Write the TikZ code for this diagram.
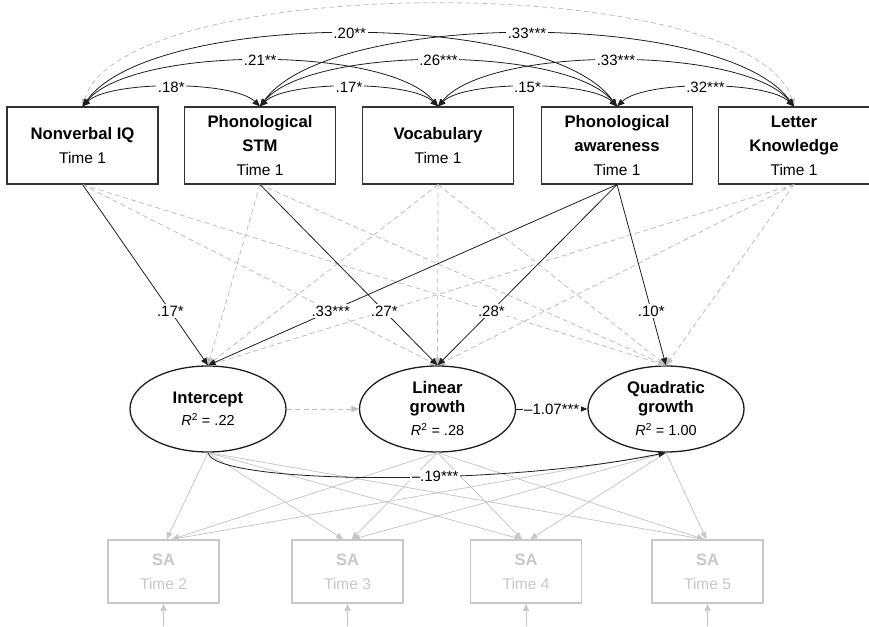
\documentclass[tikz,border=0pt]{standalone}
\usepackage{fontspec}
\setmainfont{Liberation Sans}
\usetikzlibrary{arrows.meta,shapes.geometric,calc}
\definecolor{ink}{HTML}{1E1E1E}
\definecolor{boxline}{HTML}{333333}
\definecolor{dashgray}{HTML}{BDBDBD}
\definecolor{palegray}{HTML}{C8C8C8}
\newcommand\regline[1]{{\fontsize{15.5}{24}\selectfont #1}}
\newcommand\rsq[1]{{\fontsize{14.5}{19}\selectfont\textit{R}\textsuperscript{2} = #1}}
\begin{document}
\begin{tikzpicture}[x=1pt,y=1pt,
  >={Triangle[length=7.5pt,width=6pt]},
  obs/.style={draw=boxline,line width=1.1pt,minimum width=151pt,minimum height=77pt,inner sep=0pt,align=center,font=\fontsize{16.7}{24}\selectfont},
  lat/.style={ellipse,draw=ink,line width=1.3pt,minimum width=156pt,minimum height=86pt,inner sep=0pt,align=center,font=\fontsize{16.7}{19}\selectfont},
  sab/.style={draw=palegray,line width=1.1pt,minimum width=111pt,minimum height=63pt,inner sep=0pt,align=center,text=palegray,font=\fontsize{16.5}{24}\selectfont},
  sig/.style={draw=ink,line width=0.8pt,->},
  nsig/.style={draw=dashgray,line width=0.8pt,dash pattern=on 5pt off 3.5pt,->},
  corr/.style={draw=ink,line width=0.8pt,<->},
  ncorr/.style={draw=dashgray,line width=0.8pt,dash pattern=on 5pt off 3.5pt,<->},
  load/.style={draw=palegray,line width=0.8pt,->},
  lab/.style={fill=white,inner sep=1.5pt,font=\fontsize{15}{15}\selectfont}]
\useasboundingbox (0,0) rectangle (869,626);

% observed predictors
\node[obs] (niq)  at (82.5,480.5) {\textbf{Nonverbal IQ}\\\regline{Time 1}};
\node[obs] (pstm) at (260,480.5)  {\textbf{Phonological}\\\textbf{STM}\\\regline{Time 1}};
\node[obs] (voc)  at (438,480.5)  {\textbf{Vocabulary}\\\regline{Time 1}};
\node[obs] (pa)   at (617,480.5)  {\textbf{Phonological}\\\textbf{awareness}\\\regline{Time 1}};
\node[obs] (lk)   at (794,480.5)  {\textbf{Letter}\\\textbf{Knowledge}\\\regline{Time 1}};

% latent growth factors
\node[lat] (int)  at (208,217)   {\textbf{Intercept}\\[3pt]\rsq{.22}};
\node[lat] (lin)  at (437.5,217) {\textbf{Linear}\\\textbf{growth}\\[4pt]\rsq{.28}};
\node[lat] (quad) at (666,217)   {\textbf{Quadratic}\\\textbf{growth}\\[4pt]\rsq{1.00}};

% SA indicators
\node[sab] (sa2) at (163.5,54.5) {\textbf{SA}\\\regline{Time 2}};
\node[sab] (sa3) at (347.5,54.5) {\textbf{SA}\\\regline{Time 3}};
\node[sab] (sa4) at (526,54.5)   {\textbf{SA}\\\regline{Time 4}};
\node[sab] (sa5) at (707.5,54.5) {\textbf{SA}\\\regline{Time 5}};

\coordinate (r2) at (163.5,0);
\coordinate (r3) at (347.5,0);
\coordinate (r4) at (526,0);
\coordinate (r5) at (707.5,0);

% correlations
\draw[ncorr] (niq.north) .. controls +(40,136) and +(-40,136) .. (lk.north);
\draw[corr] (niq.north) .. controls +(70,97) and +(-70,97) .. (pa.north) node[lab,pos=0.5]{.20**};
\draw[corr] (pstm.north) .. controls +(70,97) and +(-70,97) .. (lk.north) node[lab,pos=0.5]{.33***};
\draw[corr] (niq.north) .. controls +(50,61) and +(-50,61) .. (voc.north) node[lab,pos=0.5]{.21**};
\draw[corr] (pstm.north) .. controls +(50,61) and +(-50,61) .. (pa.north) node[lab,pos=0.5]{.26***};
\draw[corr] (voc.north) .. controls +(50,61) and +(-50,61) .. (lk.north) node[lab,pos=0.5]{.33***};
\draw[corr] (niq.north) .. controls +(27,26) and +(-27,26) .. (pstm.north) node[lab,pos=0.5]{.18*};
\draw[corr] (pstm.north) .. controls +(27,26) and +(-27,26) .. (voc.north) node[lab,pos=0.5]{.17*};
\draw[corr] (voc.north) .. controls +(27,26) and +(-27,26) .. (pa.north) node[lab,pos=0.5]{.15*};
\draw[corr] (pa.north) .. controls +(27,26) and +(-27,26) .. (lk.north) node[lab,pos=0.5]{.32***};

% non-significant regressions
\draw[nsig] (niq.south) -- (lin.north);
\draw[nsig] (niq.south) -- (quad.north);
\draw[nsig] (pstm.south) -- (int.north);
\draw[nsig] (pstm.south) -- (quad.north);
\draw[nsig] (voc.south) -- (int.north);
\draw[nsig] (voc.south) -- (lin.north);
\draw[nsig] (voc.south) -- (quad.north);
\draw[nsig] (lk.south) -- (int.north);
\draw[nsig] (lk.south) -- (lin.north);
\draw[nsig] (lk.south) -- (quad.north);

% significant regressions
\draw[sig] (niq.south) -- (int.north) node[lab,pos=0.7]{.17*};
\draw[sig] (pstm.south) -- (lin.north) node[lab,pos=0.7]{.27*};
\draw[sig] (pa.south) -- (int.north) node[lab,pos=0.7]{.33***};
\draw[sig] (pa.south) -- (lin.north) node[lab,pos=0.7]{.28*};
\draw[sig] (pa.south) -- (quad.north) node[lab,pos=0.7]{.10*};

% growth factor relations
\draw[nsig] (int) -- (lin);

% loadings
\draw[load] (int.south) -- ($(sa2.north)+(3,0)$);
\draw[load] (lin.south) -- ($(sa2.north)+(8,0)$);
\draw[load] (quad.south) -- ($(sa2.north)+(8,0)$);
\draw[load] (int.south) -- ($(sa3.north)+(-4,0)$);
\draw[load] (lin.south) -- ($(sa3.north)+(4,0)$);
\draw[load] (quad.south) -- ($(sa3.north)+(5,0)$);
\draw[load] (int.south) -- ($(sa4.north)+(-4,0)$);
\draw[load] (lin.south) -- ($(sa4.north)+(-4,0)$);
\draw[load] (quad.south) -- ($(sa4.north)+(4,0)$);
\draw[load] (int.south) -- ($(sa5.north)+(-3,0)$);
\draw[load] (lin.south) -- ($(sa5.north)+(-3,0)$);
\draw[load] (quad.south) -- ($(sa5.north)+(-1,0)$);

% residuals
\draw[load] (r2) -- (sa2.south);
\draw[load] (r3) -- (sa3.south);
\draw[load] (r4) -- (sa4.south);
\draw[load] (r5) -- (sa5.south);

\draw[sig] (int.south) .. controls +(6,-32) and +(-165,-34) .. (quad.south) node[lab,pos=0.6]{–.19***};
\draw[sig] (lin) -- (quad) node[lab,midway]{–1.07***};
\end{tikzpicture}
\end{document}
